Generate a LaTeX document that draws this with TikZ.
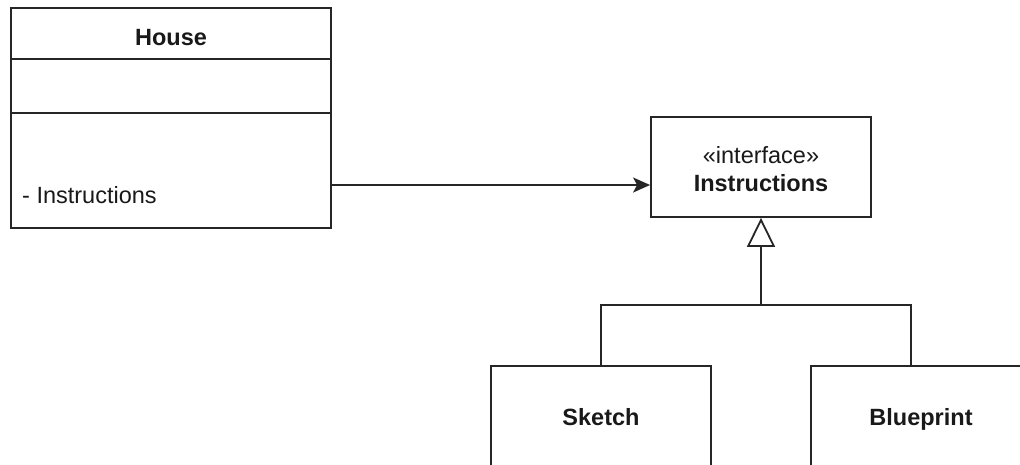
\documentclass[tikz,border=0pt]{standalone}
\usepackage{fontspec}
\setmainfont{Liberation Sans}
\usetikzlibrary{arrows.meta,calc}

\tikzset{
  umlline/.style={line width=1.8pt, draw=black!85},
  classbox/.style={umlline, rectangle, inner sep=0pt, fill=white},
  lbl/.style={inner sep=0pt, anchor=base, text=black!90},
  boldlbl/.style={lbl, font=\fontsize{23.5}{28}\selectfont\bfseries},
  uses/.style={umlline, -{Stealth[length=17pt, width=15pt, inset=4pt]}},
  realizes/.style={umlline, -{Triangle[open, length=29pt, width=28pt, line width=1.8pt]}},
}

\begin{document}
\begin{tikzpicture}[x=1pt, y=-1pt, font=\fontsize{23.5}{28}\selectfont]
  \useasboundingbox (0,0) rectangle (1020,464);
  \clip (0,0) rectangle (1020,464);

  % House class with three compartments
  \node[classbox, minimum width=320pt, minimum height=220pt] (house) at (171,118) {};
  \coordinate (hdivA) at ($(house.north west)+(0,52)$);
  \coordinate (hdivB) at ($(house.north west)+(0,106)$);
  \draw[umlline] (hdivA) -- (hdivA -| house.east);
  \draw[umlline] (hdivB) -- (hdivB -| house.east);
  \node[boldlbl] (htitle) at (171,45) {House};
  \node[lbl, anchor=base west] (hattr) at (22,203) {- Instructions};

  % Interface
  \node[classbox, minimum width=220pt, minimum height=100pt] (iface) at (761,167) {};
  \node[lbl] (istereo) at (761,163) {«interface»};
  \node[boldlbl] (iname) at (761,191) {Instructions};

  % Implementations
  \node[classbox, minimum width=220pt, minimum height=100pt] (sketch) at (601,416) {};
  \node[boldlbl] (sname) at (601,425) {Sketch};
  \node[classbox, minimum width=220pt, minimum height=100pt] (blue) at (921,416) {};
  \node[boldlbl] (bname) at (921,425) {Blueprint};

  % Association
  \coordinate (hport) at (house.east |- 0,185);
  \draw[uses] (hport) -- (hport -| iface.west);

  % Realization tree
  \coordinate (bport) at ($(blue.north)+(-10,0)$);
  \coordinate (joint) at (761,305);
  \draw[umlline] (sketch.north) |- (joint) -| (bport);
  \draw[realizes] (joint) -- (iface.south);
\end{tikzpicture}
\end{document}
